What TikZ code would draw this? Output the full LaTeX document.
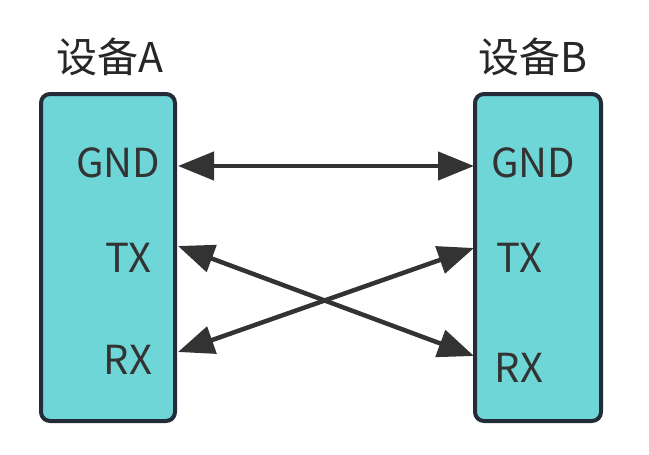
\documentclass[tikz,border=0pt]{standalone}
\usepackage{fontspec}
\setmainfont{Noto Sans CJK SC}
\usetikzlibrary{arrows.meta}
\definecolor{boxfill}{HTML}{6FD6D8}
\definecolor{boxline}{HTML}{232C37}
\definecolor{arr}{HTML}{333333}
\tikzset{
  devbox/.style={draw=boxline, fill=boxfill, line width=4pt, rounded corners=9pt},
  lbl/.style={font=\fontsize{40}{46}\selectfont, text=arr, inner sep=0pt},
  ttl/.style={font=\fontsize{41}{48}\selectfont, text=black!85, inner sep=0pt},
  link/.style={draw=arr, line width=4.5pt, {Triangle[length=36pt,width=28pt]}-{Triangle[length=36pt,width=28pt]}}
}
\begin{document}
\begin{tikzpicture}[x=1pt,y=-1pt]
\useasboundingbox (0,0) rectangle (649,455);
\draw[devbox] (41,94) rectangle (175,421);
\draw[devbox] (475,94) rectangle (601,421);
\node[ttl] (ta) at (110,57) {设备A};
\node[ttl] (tb) at (533,57) {设备B};
\node[lbl] (ga) at (118,163) {GND};
\node[lbl] (xa) at (128,258) {TX};
\node[lbl] (ra) at (128,360) {RX};
\node[lbl] (gb) at (533,163) {GND};
\node[lbl] (xb) at (519,258) {TX};
\node[lbl] (rb) at (519,368) {RX};
\coordinate (pga) at (178,166);
\coordinate (pgb) at (474,166);
\coordinate (pxa) at (178,246);
\coordinate (prb) at (474,356);
\coordinate (pra) at (178,352);
\coordinate (pxb) at (474,248);
\draw[link] (pga) -- (pgb);
\draw[link] (pxa) -- (prb);
\draw[link] (pra) -- (pxb);
\end{tikzpicture}
\end{document}
